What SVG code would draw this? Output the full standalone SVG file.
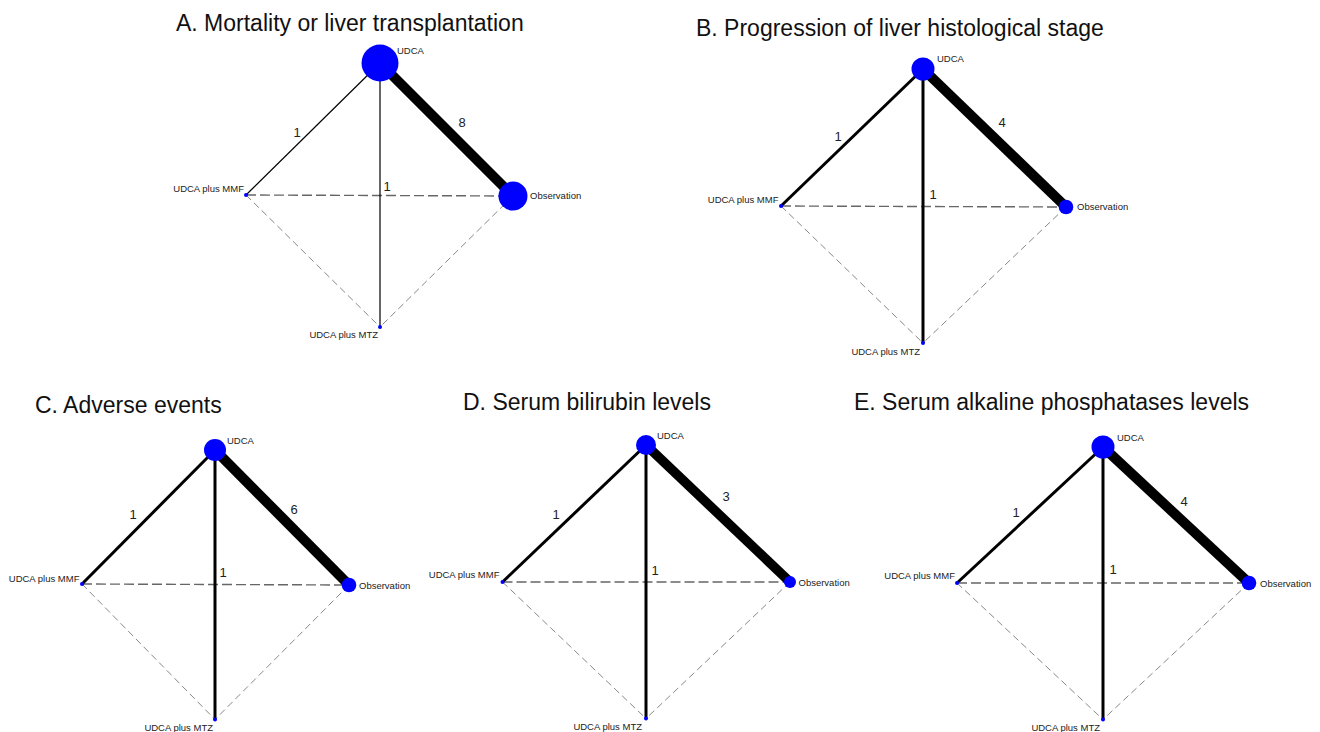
<svg xmlns="http://www.w3.org/2000/svg" width="1320" height="732" viewBox="0 0 1320 732">
<style>
.title{font-family:"Liberation Sans",Arial,sans-serif;font-size:23px;fill:#111}
.lab{font-family:"Liberation Sans",Arial,sans-serif;font-size:9.5px;fill:#222}
.num{font-family:"Liberation Sans",Arial,sans-serif;font-size:13px;fill:#222;text-anchor:middle}
.end{text-anchor:end}
.solid{stroke:#000;fill:none}
.dashH{stroke:#666;stroke-width:1.4;stroke-dasharray:10 4;fill:none}
.dashD{stroke:#888;stroke-width:1;stroke-dasharray:7 4;fill:none}
.node{fill:#0000ff}
</style>
<rect width="1320" height="732" fill="#fff"/>

<!-- Panel A -->
<g id="panelA">
<text class="title" x="176" y="31">A. Mortality or liver transplantation</text>
<g id="A-connectors">
<line class="dashH" x1="246" y1="195" x2="513" y2="196"/>
<line class="dashD" x1="246" y1="195" x2="380" y2="327"/>
<line class="dashD" x1="513" y1="196" x2="380" y2="327"/>
<line class="solid" stroke-width="1.2" x1="380" y1="63" x2="246" y2="195"/>
<line class="solid" stroke-width="1.2" x1="380" y1="63" x2="380" y2="327"/>
<line class="solid" stroke-width="10" x1="380" y1="63" x2="513" y2="196"/>
<text class="num" x="297" y="137">1</text>
<text class="num" x="462" y="127">8</text>
<text class="num" x="387" y="191">1</text>
</g>
<g id="A-UDCA"><circle class="node" cx="380" cy="63" r="18.5"/><text class="lab" x="397" y="54">UDCA</text></g>
<g id="A-Observation"><circle class="node" cx="513" cy="196" r="14.5"/><text class="lab" x="530" y="199">Observation</text></g>
<g id="A-MMF"><circle class="node" cx="246" cy="195" r="2"/><text class="lab end" x="244" y="192">UDCA plus MMF</text></g>
<g id="A-MTZ"><circle class="node" cx="380" cy="327" r="2"/><text class="lab end" x="378" y="338">UDCA plus MTZ</text></g>
</g>

<!-- Panel B -->
<g id="panelB">
<text class="title" x="696" y="36">B. Progression of liver histological stage</text>
<g id="B-connectors">
<line class="dashH" x1="781" y1="206" x2="1066" y2="207"/>
<line class="dashD" x1="781" y1="206" x2="923" y2="343"/>
<line class="dashD" x1="1066" y1="207" x2="923" y2="343"/>
<line class="solid" stroke-width="3" x1="923" y1="69" x2="781" y2="206"/>
<line class="solid" stroke-width="3" x1="923" y1="69" x2="923" y2="343"/>
<line class="solid" stroke-width="10" x1="923" y1="69" x2="1066" y2="207"/>
<text class="num" x="838" y="141">1</text>
<text class="num" x="1002" y="127">4</text>
<text class="num" x="933" y="199">1</text>
</g>
<g id="B-UDCA"><circle class="node" cx="923" cy="69" r="11.5"/><text class="lab" x="937" y="62">UDCA</text></g>
<g id="B-Observation"><circle class="node" cx="1066" cy="207" r="7.3"/><text class="lab" x="1077" y="210">Observation</text></g>
<g id="B-MMF"><circle class="node" cx="781" cy="206" r="2"/><text class="lab end" x="778.5" y="203">UDCA plus MMF</text></g>
<g id="B-MTZ"><circle class="node" cx="923" cy="343" r="2"/><text class="lab end" x="920" y="355">UDCA plus MTZ</text></g>
</g>

<!-- Panel C -->
<g id="panelC">
<text class="title" x="35" y="413">C. Adverse events</text>
<g id="C-connectors">
<line class="dashH" x1="82" y1="584" x2="349" y2="585"/>
<line class="dashD" x1="82" y1="584" x2="215" y2="719.5"/>
<line class="dashD" x1="349" y1="585" x2="215" y2="719.5"/>
<line class="solid" stroke-width="3" x1="215" y1="450" x2="82" y2="584"/>
<line class="solid" stroke-width="3" x1="215" y1="450" x2="215" y2="719.5"/>
<line class="solid" stroke-width="10" x1="215" y1="450" x2="349" y2="585"/>
<text class="num" x="133" y="519">1</text>
<text class="num" x="294" y="514">6</text>
<text class="num" x="223" y="577">1</text>
</g>
<g id="C-UDCA"><circle class="node" cx="215" cy="450" r="11"/><text class="lab" x="227" y="444">UDCA</text></g>
<g id="C-Observation"><circle class="node" cx="349" cy="585" r="7.3"/><text class="lab" x="359" y="589">Observation</text></g>
<g id="C-MMF"><circle class="node" cx="82" cy="584" r="2"/><text class="lab end" x="79.5" y="582">UDCA plus MMF</text></g>
<g id="C-MTZ"><circle class="node" cx="215" cy="719.5" r="2"/><text class="lab end" x="213" y="731">UDCA plus MTZ</text></g>
</g>

<!-- Panel D -->
<g id="panelD">
<text class="title" x="463" y="410">D. Serum bilirubin levels</text>
<g id="D-connectors">
<line class="dashH" x1="502.5" y1="582" x2="790" y2="582"/>
<line class="dashD" x1="502.5" y1="582" x2="646" y2="718.5"/>
<line class="dashD" x1="790" y1="582" x2="646" y2="718.5"/>
<line class="solid" stroke-width="3" x1="646" y1="445" x2="502.5" y2="582"/>
<line class="solid" stroke-width="3" x1="646" y1="445" x2="646" y2="718.5"/>
<line class="solid" stroke-width="9.5" x1="646" y1="445" x2="790" y2="582"/>
<text class="num" x="556" y="519">1</text>
<text class="num" x="726" y="501">3</text>
<text class="num" x="655" y="575">1</text>
</g>
<g id="D-UDCA"><circle class="node" cx="646" cy="445" r="10"/><text class="lab" x="657" y="439">UDCA</text></g>
<g id="D-Observation"><circle class="node" cx="790" cy="582" r="6"/><text class="lab" x="798.5" y="585.5">Observation</text></g>
<g id="D-MMF"><circle class="node" cx="502.5" cy="582" r="2"/><text class="lab end" x="499.5" y="578">UDCA plus MMF</text></g>
<g id="D-MTZ"><circle class="node" cx="646" cy="718.5" r="2"/><text class="lab end" x="642" y="730">UDCA plus MTZ</text></g>
</g>

<!-- Panel E -->
<g id="panelE">
<text class="title" x="854" y="410">E. Serum alkaline phosphatases levels</text>
<g id="E-connectors">
<line class="dashH" x1="957" y1="583" x2="1249" y2="583"/>
<line class="dashD" x1="957" y1="583" x2="1103" y2="719.5"/>
<line class="dashD" x1="1249" y1="583" x2="1103" y2="719.5"/>
<line class="solid" stroke-width="3" x1="1103" y1="447" x2="957" y2="583"/>
<line class="solid" stroke-width="3" x1="1103" y1="447" x2="1103" y2="719.5"/>
<line class="solid" stroke-width="10" x1="1103" y1="447" x2="1249" y2="583"/>
<text class="num" x="1016" y="517">1</text>
<text class="num" x="1184" y="506">4</text>
<text class="num" x="1113" y="574">1</text>
</g>
<g id="E-UDCA"><circle class="node" cx="1103" cy="447" r="11.5"/><text class="lab" x="1117" y="441">UDCA</text></g>
<g id="E-Observation"><circle class="node" cx="1249" cy="583" r="7.3"/><text class="lab" x="1260" y="587">Observation</text></g>
<g id="E-MMF"><circle class="node" cx="957" cy="583" r="2"/><text class="lab end" x="955" y="579">UDCA plus MMF</text></g>
<g id="E-MTZ"><circle class="node" cx="1103" cy="719.5" r="2"/><text class="lab end" x="1100" y="731">UDCA plus MTZ</text></g>
</g>
</svg>
